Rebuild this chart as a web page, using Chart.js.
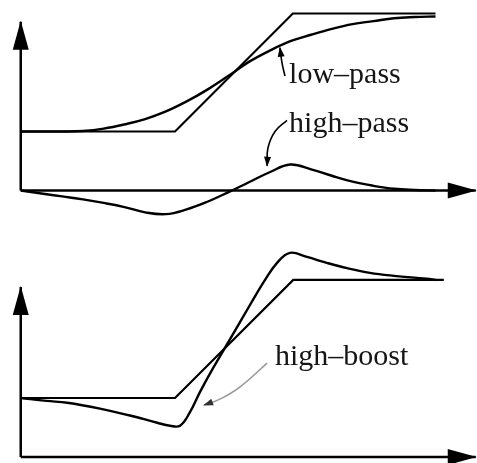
<!DOCTYPE html>
<html>
<head>
<meta charset="utf-8">
<script src="https://cdn.jsdelivr.net/npm/chart.js@4.4.1/dist/chart.umd.min.js"></script>
<style>
  html, body { margin: 0; padding: 0; background: #fff; }
  #wrap { position: relative; width: 477px; height: 463px; }
  canvas { position: absolute; left: 0; }
  #top { top: 0; }
  #bottom { top: 230px; }
</style>
</head>
<body>
<div id="wrap">
  <canvas id="top" width="477" height="230"></canvas>
  <canvas id="bottom" width="477" height="233"></canvas>
</div>
<script>
// Edge profiles (x: position along the edge, y: intensity)

// top panel: ramp edge, its low-pass and high-pass versions
const rampTopX = [0, 37.2, 65.6, 100];
const rampTopY = [1, 1, 3, 3];

const lowPassX = [0, 5, 10, 15, 20, 25, 30, 35, 40, 45, 50, 55, 60, 65, 70, 75, 80, 85, 90, 95, 100];
const lowPassY = [1, 1, 1, 1.01, 1.05, 1.12, 1.21, 1.34, 1.51, 1.71, 1.94, 2.18, 2.37, 2.53, 2.64, 2.74, 2.82, 2.87, 2.92, 2.94, 2.95];

const highPassX = [0, 5, 10, 15, 20, 25, 30, 35, 40, 45, 50, 55, 60, 65, 70, 75, 80, 85, 90, 95, 100];
const highPassY = [0, -0.05, -0.1, -0.15, -0.21, -0.28, -0.37, -0.4, -0.32, -0.19, -0.03, 0.14, 0.31, 0.44, 0.36, 0.25, 0.15, 0.08, 0.03, 0.01, 0];

// bottom panel: same ramp and its high-boost version
const rampBottomX = [0, 37.2, 65.7, 102];
const rampBottomY = [1, 1, 3, 3];

const highBoostX = [0, 6.2, 11.2, 19.1, 27.1, 32.9, 36.0, 38.4, 40.8, 43.2, 46.4, 50.5, 55.3, 58.9, 61.8, 64.9, 69.0, 73.8, 78.7, 84.2, 90.0, 97.9, 100];
const highBoostY = [1, 0.95, 0.92, 0.82, 0.69, 0.58, 0.53, 0.53, 0.76, 1.1, 1.51, 2.0, 2.58, 3.0, 3.29, 3.46, 3.39, 3.29, 3.2, 3.12, 3.07, 3.02, 3.0];

// axis ends (arrow tips)
const xAxisEnd = 109.7;
const yAxisTopEnd = 2.86;
const yAxisBottomEnd = 2.88;

// labels and their leader arrows
const curveNames = ['low\u2013pass', 'high\u2013pass', 'high\u2013boost'];

const pairs = (xs, ys) => xs.map((x, i) => ({ x, y: ys[i] }));

function curve(xs, ys, extra) {
  return Object.assign({
    data: pairs(xs, ys),
    borderColor: '#000',
    borderWidth: 2.2,
    pointRadius: 0,
    fill: false,
    tension: 0
  }, extra);
}

// draws a filled arrowhead at the last point of any dataset that has `arrow`
const arrowHeads = {
  id: 'arrowHeads',
  afterDatasetsDraw(chart) {
    const ctx = chart.ctx;
    chart.data.datasets.forEach((ds, i) => {
      if (!ds.arrow) return;
      const pts = chart.getDatasetMeta(i).data;
      const tip = pts[pts.length - 1];
      const prev = pts[pts.length - 2];
      let fx = prev.x, fy = prev.y;
      if (ds.tension && tip.cp1x !== undefined) { fx = tip.cp1x; fy = tip.cp1y; }
      const ang = Math.atan2(tip.y - fy, tip.x - fx);
      const [len, half] = ds.arrow;
      ctx.save();
      ctx.translate(tip.x, tip.y);
      ctx.rotate(ang);
      ctx.beginPath();
      ctx.moveTo(1, 0);
      ctx.lineTo(-len, -half);
      ctx.lineTo(-len, half);
      ctx.closePath();
      ctx.fillStyle = ds.arrowColor || '#000';
      ctx.fill();
      ctx.restore();
    });
  }
};

// text labels placed in data coordinates
const curveLabels = {
  id: 'curveLabels',
  afterDraw(chart, args, opts) {
    const { ctx, scales: { x, y } } = chart;
    ctx.save();
    ctx.font = opts.font;
    ctx.fillStyle = opts.color;
    ctx.textBaseline = 'alphabetic';
    (opts.items || []).forEach(it => {
      ctx.fillText(it.text, x.getPixelForValue(it.x), y.getPixelForValue(it.y));
    });
    ctx.restore();
  }
};

function makePanel(canvasId, datasets, yMin, yMax, labels) {
  return new Chart(document.getElementById(canvasId), {
    type: 'line',
    data: { datasets },
    options: {
      responsive: false,
      animation: false,
      devicePixelRatio: 1,
      events: [],
      layout: { padding: 0 },
      scales: {
        x: { type: 'linear', min: -5, max: 110, display: false },
        y: { type: 'linear', min: yMin, max: yMax, display: false }
      },
      plugins: {
        legend: { display: false },
        tooltip: { enabled: false },
        curveLabels: { font: '30px "Liberation Serif", "Times New Roman", serif', color: '#151515', items: labels }
      }
    },
    plugins: [arrowHeads, curveLabels]
  });
}

const axisStyle = { borderWidth: 2.5, arrow: [28, 8] };
const smooth = { tension: 0.4, borderWidth: 2.4 };
const leaderStyle = { borderWidth: 1.6, tension: 0.4, arrow: [9, 3.5] };

makePanel('top', [
  curve([0, 0], [0, yAxisTopEnd], axisStyle),
  curve([0, xAxisEnd], [0, 0], axisStyle),
  curve(rampTopX, rampTopY),
  curve(lowPassX, lowPassY, smooth),
  curve(highPassX, highPassY, smooth),
  curve([63.7, 63.0, 62.5], [1.94, 2.16, 2.42], leaderStyle),
  curve([64.2, 61.3, 59.6, 59.4], [1.19, 1.0, 0.72, 0.42], leaderStyle)
], -0.669, 3.229, [
  { text: curveNames[0], x: 64.7, y: 1.82 },
  { text: curveNames[1], x: 64.7, y: 0.99 }
]);

makePanel('bottom', [
  curve([0, 0], [0, yAxisBottomEnd], axisStyle),
  curve([0, xAxisEnd], [0, 0], axisStyle),
  curve(rampBottomX, rampBottomY),
  curve(highBoostX, highBoostY, smooth),
  curve([59.4, 52.9, 48.0, 44.2], [1.59, 1.19, 0.98, 0.88],
    Object.assign({}, leaderStyle, { borderColor: '#9a9a9a', arrowColor: '#333' }))
], -0.102, 3.847, [
  { text: curveNames[2], x: 61.3, y: 1.56 }
]);
</script>
</body>
</html>
